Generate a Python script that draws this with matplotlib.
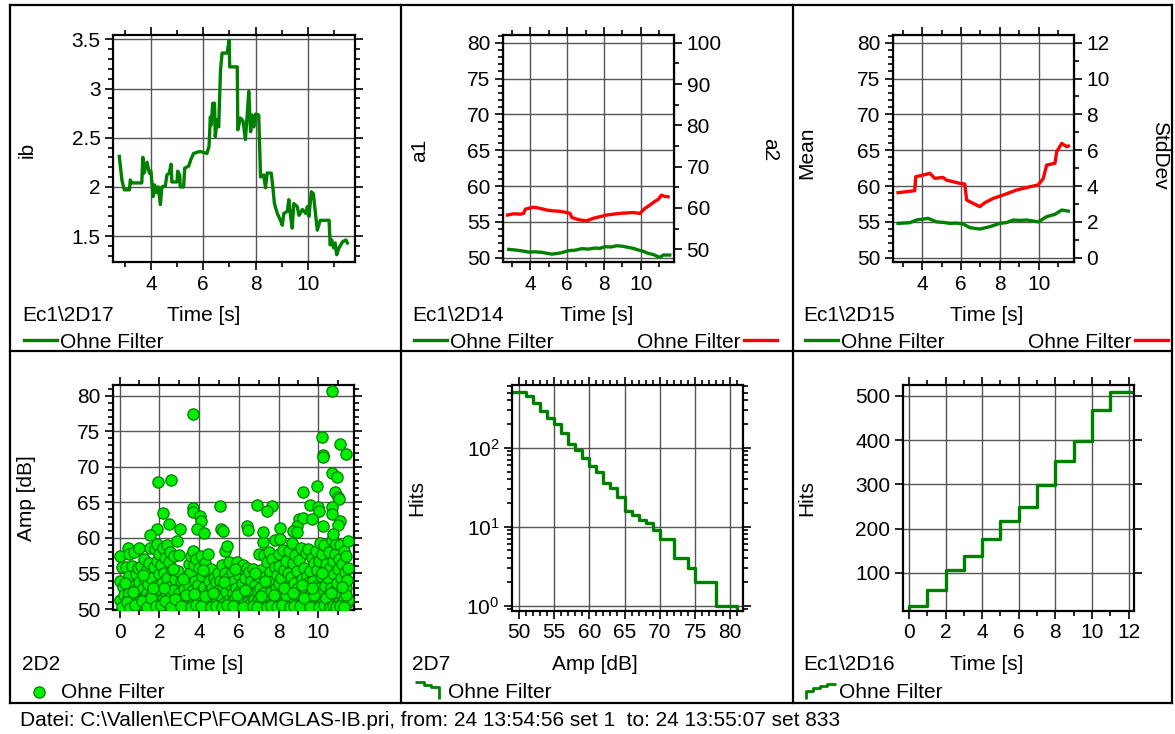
import matplotlib
matplotlib.use("Agg")
import matplotlib.pyplot as plt
import numpy as np
from matplotlib.ticker import MultipleLocator, StrMethodFormatter, LogLocator, NullFormatter
from matplotlib.lines import Line2D
from matplotlib.markers import MarkerStyle
from matplotlib.path import Path

plt.rcParams['font.family'] = ['Liberation Sans', 'DejaVu Sans']
plt.rcParams['mathtext.fontset'] = 'custom'
plt.rcParams['mathtext.rm'] = 'Liberation Sans'

# ---- data ------------------------------------------------------------------
# ib over time (Ec1\2D17)
ib_t = [2.79, 2.89, 2.98, 3.18, 3.21, 3.27, 3.65, 3.69, 3.74, 3.85, 3.94, 4.00, 4.08, 4.14,
        4.20, 4.28, 4.36, 4.42, 4.55, 4.61, 4.70, 4.77, 4.80, 5.00, 5.02, 5.10, 5.12, 5.25,
        5.29, 5.44, 5.53, 5.63, 5.87, 6.14, 6.22, 6.27, 6.31, 6.36, 6.43, 6.46, 6.53, 6.59,
        6.66, 6.72, 6.91, 6.99, 7.01, 7.30, 7.32, 7.42, 7.52, 7.61, 7.68, 7.74, 7.81, 7.87,
        7.93, 8.00, 8.12, 8.19, 8.31, 8.38, 8.44, 8.60, 8.67, 8.72, 8.83, 8.95, 9.02, 9.08,
        9.21, 9.27, 9.34, 9.40, 9.46, 9.59, 9.66, 9.79, 9.92, 9.98, 10.04, 10.13, 10.21,
        10.30, 10.36, 10.47, 10.81, 10.85, 10.91, 10.98, 11.04, 11.10, 11.19, 11.32, 11.45, 11.51]
ib_val = [2.31, 2.07, 1.97, 1.97, 2.07, 2.04, 2.04, 2.30, 2.14, 2.25, 2.14, 2.16, 1.90, 2.02,
          1.94, 2.00, 1.82, 2.00, 2.01, 2.12, 2.14, 2.23, 2.05, 2.05, 2.16, 2.12, 2.00, 2.00,
          2.19, 2.21, 2.28, 2.34, 2.36, 2.34, 2.41, 2.71, 2.63, 2.85, 2.85, 2.51, 2.68, 2.61,
          3.19, 3.36, 3.36, 3.49, 3.22, 3.22, 2.58, 2.70, 2.67, 2.48, 2.73, 2.97, 2.56, 2.73,
          2.61, 2.74, 2.73, 2.10, 2.12, 1.99, 2.14, 2.14, 1.97, 1.83, 1.73, 1.66, 1.61, 1.73,
          1.75, 1.87, 1.70, 1.58, 1.83, 1.80, 1.71, 1.77, 1.73, 1.80, 1.70, 1.95, 1.93,
          1.70, 1.56, 1.66, 1.66, 1.41, 1.46, 1.38, 1.43, 1.31, 1.38, 1.44, 1.46, 1.43]

# a1 / a2 (Ec1\2D14)
a1_t = [2.83, 3.19, 3.55, 3.91, 4.27, 4.63, 4.90, 5.17, 5.44, 5.71, 6.07, 6.43, 6.79, 7.15,
        7.51, 7.78, 8.05, 8.40, 8.68, 9.00, 9.32, 9.60, 9.86, 10.13, 10.40, 10.67, 10.94,
        11.05, 11.21, 11.57]
a1_val = [51.16, 51.07, 50.95, 50.79, 50.82, 50.74, 50.62, 50.50, 50.58, 50.70, 50.98,
          51.05, 51.26, 51.20, 51.35, 51.30, 51.53, 51.50, 51.67, 51.60, 51.44, 51.30,
          51.07, 50.90, 50.60, 50.45, 50.14, 50.05, 50.37, 50.37]
a2_t = [2.77, 3.10, 3.46, 3.64, 3.73, 4.18, 4.54, 4.90, 5.26, 5.60, 5.98, 6.16, 6.25, 6.45,
        6.70, 7.06, 7.42, 7.78, 8.15, 8.50, 8.86, 9.20, 9.58, 9.95, 10.22, 10.49, 10.76,
        10.95, 11.12, 11.30, 11.48]
a2_val = [58.3, 58.6, 58.5, 58.7, 59.7, 60.2, 59.9, 59.5, 59.3, 59.2, 58.9, 58.7, 57.7, 57.4,
          57.1, 56.9, 57.5, 57.9, 58.3, 58.5, 58.7, 58.8, 58.9, 58.7, 59.9, 60.7, 61.6,
          62.1, 63.1, 62.8, 62.7]

# Mean / StdDev (Ec1\2D15)
mean_t = [2.76, 3.36, 3.71, 4.31, 4.74, 5.10, 5.43, 5.80, 6.11, 6.46, 6.97, 7.49, 8.00,
          8.35, 8.69, 9.05, 9.38, 9.98, 10.41, 10.84, 11.19, 11.53]
mean_val = [54.79, 54.88, 55.26, 55.49, 55.00, 54.92, 54.79, 54.82, 54.70, 54.19, 54.00,
            54.33, 54.79, 54.90, 55.26, 55.20, 55.26, 55.00, 55.72, 56.05, 56.65, 56.50]
std_t = [2.76, 3.62, 3.67, 4.05, 4.40, 4.65, 5.08, 5.25, 5.94, 6.20, 6.29, 6.63, 6.97,
         7.23, 7.66, 8.18, 8.87, 9.55, 9.98, 10.24, 10.41, 10.84, 10.93, 11.19, 11.44, 11.53]
std_val = [3.63, 3.74, 4.52, 4.61, 4.71, 4.43, 4.48, 4.33, 4.15, 4.11, 3.22, 3.03, 2.85,
           3.07, 3.31, 3.50, 3.78, 3.96, 4.06, 4.43, 5.17, 5.27, 5.92, 6.38, 6.20, 6.23]

# Amp over time (2D2)
hit_t = [
    0.0, 0.0, 0.02, 0.1, 0.15, 0.2, 0.25, 0.3, 0.35, 0.4, 0.45, 0.5, 0.5, 0.5,
    0.6, 0.65, 0.7, 0.75, 0.8, 0.85, 0.9, 0.95, 1.0, 1.0, 1.05, 1.0,
    1.1, 1.2, 1.25, 1.3, 1.3, 1.35, 1.4, 1.45, 1.5, 1.5, 1.55,
    1.6, 1.65, 1.7, 1.75, 1.8, 1.85, 1.9, 1.95, 1.9, 2.0, 2.0, 2.0, 2.05,
    2.1, 2.15, 2.2, 2.2, 2.25, 2.3, 2.35, 2.4, 2.4, 2.45, 2.5, 2.5,
    2.55, 2.6, 2.65, 2.7, 2.75, 2.8, 2.85, 2.9, 2.95, 3.0, 3.0, 3.05,
    3.1, 3.2, 3.25, 3.3, 3.35, 3.4, 3.45, 3.5, 3.5,
    3.55, 3.6, 3.65, 3.7, 3.7, 3.75, 3.8, 3.85, 3.9, 3.95, 4.0, 4.0,
    4.05, 4.1, 4.15, 4.2, 4.25, 4.3, 4.35, 4.4, 4.45, 4.5, 4.5,
    4.55, 4.6, 4.65, 4.7, 4.75, 4.8, 4.85, 4.9, 4.95, 5.0, 5.0,
    5.05, 5.1, 5.15, 5.2, 5.25, 5.3, 5.3, 5.35, 5.4, 5.45, 5.5, 5.5,
    5.55, 5.6, 5.65, 5.7, 5.75, 5.8, 5.85, 5.9, 5.95, 6.0, 6.0,
    6.05, 6.1, 6.15, 6.2, 6.25, 6.3, 6.35, 6.4, 6.45, 6.5, 6.5,
    6.55, 6.6, 6.65, 6.7, 6.75, 6.8, 6.85, 6.9, 6.95, 7.0, 7.0,
    7.05, 7.1, 7.15, 7.2, 7.2, 7.25, 7.3, 7.35, 7.4, 7.45, 7.5, 7.5,
    7.55, 7.6, 7.65, 7.7, 7.75, 7.8, 7.8, 7.85, 7.9, 7.95, 8.0, 8.0,
    8.05, 8.1, 8.1, 8.15, 8.2, 8.25, 8.3, 8.35, 8.4, 8.45, 8.5, 8.5,
    8.55, 8.6, 8.65, 8.7, 8.7, 8.75, 8.8, 8.85, 8.9, 8.95, 9.0, 9.0,
    9.05, 9.1, 9.15, 9.2, 9.25, 9.3, 9.35, 9.4, 9.4, 9.45, 9.5, 9.5,
    9.55, 9.6, 9.65, 9.7, 9.7, 9.75, 9.8, 9.85, 9.9, 9.9, 9.95, 10.0, 10.0,
    10.05, 10.1, 10.1, 10.15, 10.2, 10.2, 10.25, 10.3, 10.3, 10.35, 10.4, 10.45, 10.5, 10.5,
    10.55, 10.6, 10.6, 10.65, 10.7, 10.7, 10.75, 10.8, 10.8, 10.85, 10.9, 10.9, 10.95, 11.0, 11.0,
    11.05, 11.1, 11.1, 11.15, 11.2, 11.2, 11.25, 11.3, 11.3, 11.35, 11.4, 11.4, 11.45, 11.45,
    11.5, 11.5, 11.5,
    0.1, 0.35, 0.55, 0.8, 1.15, 1.4, 1.6, 1.85, 2.1, 2.3, 2.6, 2.8, 3.1, 3.35, 3.6, 3.85,
    4.1, 4.3, 4.6, 4.85, 5.15, 5.4, 5.7, 5.9, 6.2, 6.4, 6.7, 6.9, 7.1, 7.4, 7.6, 7.9,
    8.2, 8.4, 8.6, 8.8, 9.1, 9.3, 9.6, 9.8, 10.05, 10.3, 10.4, 10.6, 10.75, 10.9, 11.1,
    11.3, 11.4,
    0.25, 0.7, 1.2, 1.7, 2.25, 2.7, 3.2, 3.75, 4.2, 4.7, 5.25, 5.8, 6.3, 6.8, 7.3, 7.75,
    8.3, 8.75, 9.2, 9.7, 10.2, 10.65, 11.2,
    3.69, 10.70, 10.17, 10.22, 10.25, 11.09, 11.42, 1.96, 2.58, 10.67, 10.92, 9.92, 9.21,
    10.84, 11.00, 11.06, 5.06, 6.93, 7.66, 7.41, 9.61, 9.99, 10.04, 10.67, 10.67, 3.69,
    3.72, 4.05, 4.10, 3.89, 4.25, 2.21, 2.51, 3.02, 1.88, 1.51, 5.11, 5.19, 6.40, 6.48,
    7.23, 9.04, 8.91, 8.74, 8.91, 9.24, 8.07, 10.25, 11.09, 11.00, 9.68, 10.75]
hit_amp = [
    57.4, 54.0, 51.2, 55.9, 53.1, 52.0, 50.6, 55.9, 53.6, 51.5, 58.6, 57.8, 54.6, 52.3,
    50.8, 56.0, 53.2, 58.0, 51.9, 54.9, 52.8, 55.8, 58.6, 53.8, 51.2, 50.7,
    56.0, 52.9, 57.1, 54.1, 50.9, 55.4, 52.2, 53.5, 56.5, 51.5, 58.6,
    54.4, 52.3, 50.8, 55.9, 58.4, 53.3, 56.7, 51.7, 59.1, 54.9, 52.8, 57.7, 50.6,
    56.2, 53.6, 58.6, 51.4, 55.1, 57.2, 52.3, 54.4, 59.0, 50.9, 56.6, 53.1,
    58.0, 51.8, 55.5, 52.7, 57.5, 54.2, 50.7, 59.5, 55.3, 52.3, 57.6, 51.0,
    53.9, 51.6, 52.8, 50.6, 54.5, 52.0, 51.1, 53.3, 56.3,
    55.0, 57.4, 52.5, 58.1, 50.8, 56.2, 54.0, 57.0, 51.6, 53.4, 55.8, 50.6,
    52.4, 57.4, 54.6, 51.3, 53.1, 56.4, 50.9, 55.2, 57.7, 52.6, 54.0,
    51.2, 55.6, 53.0, 50.7, 54.4, 52.0, 53.8, 51.4, 55.0, 52.7, 50.6,
    54.0, 51.8, 56.2, 53.2, 50.8, 55.0, 58.2, 52.4, 58.8, 54.4, 51.3, 56.6,
    53.4, 50.9, 55.2, 52.2, 54.0, 51.5, 53.0, 56.6, 50.7, 54.8, 52.4,
    55.8, 51.2, 53.6, 56.2, 50.8, 54.4, 52.3, 55.7, 51.0, 53.1, 55.2,
    50.7, 54.0, 52.0, 55.6, 51.3, 53.4, 50.9, 52.6, 54.7, 51.6, 57.7,
    53.0, 55.5, 50.8, 59.4, 52.2, 57.6, 54.5, 51.4, 56.6, 53.6, 58.0, 50.6,
    55.2, 52.4, 57.0, 54.0, 50.9, 59.7, 55.9, 52.9, 54.8, 51.7, 57.8, 53.6,
    56.0, 50.7, 59.8, 54.4, 52.3, 58.3, 55.5, 51.4, 56.8, 53.3, 50.8, 55.0,
    58.2, 52.6, 54.5, 51.0, 59.3, 56.5, 53.6, 57.6, 51.9, 55.3, 50.7, 53.0,
    56.9, 52.0, 58.6, 54.2, 50.9, 55.8, 52.8, 57.9, 51.3, 54.6, 53.6, 58.5,
    50.8, 55.3, 52.2, 57.2, 51.3, 54.0, 56.4, 50.6, 53.2, 58.2, 55.5, 51.8, 53.0,
    56.8, 50.7, 59.3, 54.6, 52.2, 57.8, 51.0, 55.4, 59.0, 53.2, 56.3, 50.8, 54.4, 52.0,
    58.0, 51.4, 55.7, 53.0, 59.7, 50.6, 56.7, 52.6, 54.9, 57.7, 51.2, 59.1, 53.7, 55.6, 50.9,
    57.0, 52.2, 59.0, 54.3, 50.8, 56.3, 53.0, 58.2, 51.6, 55.2, 52.9, 57.4, 50.9, 54.1,
    59.5, 55.8, 51.3,
    50.3, 51.0, 50.2, 50.5, 51.1, 50.3, 51.6, 50.4, 50.5, 51.1, 50.3, 51.4, 50.4, 51.9, 50.3, 50.5,
    50.4, 51.8, 50.3, 50.4, 50.3, 50.5, 50.4, 51.9, 50.3, 52.6, 50.4, 50.3, 51.8, 50.3, 50.4, 50.3,
    50.5, 52.0, 50.3, 50.4, 50.4, 51.6, 50.3, 51.9, 50.3, 50.5, 51.6, 50.3, 50.4, 50.3, 50.4,
    50.3, 51.9,
    53.7, 52.4, 54.8, 53.0, 52.9, 55.6, 54.2, 52.1, 55.5, 52.3, 53.8, 55.6, 52.7, 55.0,
    53.9, 52.0, 53.0, 52.2, 53.4, 53.0, 55.0, 52.2, 53.1,
    77.4, 80.6, 74.2, 71.7, 71.4, 73.2, 71.8, 67.8, 68.1, 69.1, 68.6, 67.3, 66.4,
    66.4, 65.8, 65.5, 64.5, 64.6, 64.5, 63.8, 64.6, 64.4, 63.8, 64.4, 63.4, 64.2,
    63.6, 63.1, 62.4, 61.3, 60.7, 63.5, 61.9, 61.3, 61.3, 60.4, 61.3, 61.0, 61.7, 61.1,
    60.8, 62.6, 61.7, 61.0, 60.8, 62.8, 61.4, 61.7, 62.4, 61.8, 62.6, 60.5]

# cumulative amplitude distribution (2D7)
amp_lo = [49, 51, 52, 53, 54, 55, 56, 57, 58, 59, 60, 61, 62, 63, 64, 65, 66, 67, 68, 69,
          70, 72, 74, 75, 78, 81]
amp_hits = [510, 450, 365, 295, 240, 200, 152, 113, 93, 75, 59, 50, 36, 31, 24, 16, 14, 12,
            11, 9, 7, 4, 3, 2, 1, 0]

# cumulative hits over time (Ec1\2D16)
cum_t = [0, 0, 1, 2, 3, 4, 5, 6, 7, 8, 9, 10, 11, 12.3]
cum_hits = [0, 25, 61, 107, 138, 177, 216, 248, 298, 352, 399, 468, 509, 509]

footer = r"Datei: C:\Vallen\ECP\FOAMGLAS-IB.pri, from: 24 13:54:56 set 1  to: 24 13:55:07 set 833"

# ---- layout helpers ---------------------------------------------------------
W, H = 1175, 734
FS = 15
GREEN = '#008000'
RED = '#ff0000'


def box(l, t, r, b):
    return [l / W, 1 - b / H, (r - l) / W, (b - t) / H]


def fx(x):
    return x / W


def fy(y):
    return 1 - y / H


def style(ax, right=True):
    ax.tick_params(which='both', direction='out', top=True, right=right,
                   width=1.2, labelsize=FS, pad=3)
    ax.tick_params(which='major', length=6)
    ax.tick_params(which='minor', length=3.6)
    for s in ax.spines.values():
        s.set_linewidth(1.6)
    ax.grid(True, which='major', color='#555555', lw=1.0)


def twin_style(tw):
    tw.tick_params(which='both', direction='out', width=1.2, labelsize=FS, pad=3)
    tw.tick_params(which='major', length=6)
    tw.tick_params(which='minor', length=3.6)


def ylab(x, y, s, rot=90):
    fig.text(fx(x), fy(y), s, rotation=rot, ha='center', va='center', fontsize=FS)


def leg(handle, x, y, right=False, **kw):
    fig.legend(handles=[handle], labels=['Ohne Filter'],
               loc='center right' if right else 'center left',
               bbox_to_anchor=(fx(x), fy(y)), frameon=False, borderpad=0,
               borderaxespad=0, fontsize=FS, markerfirst=not right, **kw)


fig = plt.figure(figsize=(W / 100, H / 100), dpi=100)

# panel frames
frame_kw = dict(transform=fig.transFigure, color='black', lw=1.6)
for (x0, y0, x1, y1) in [(10, 5, 1172, 5), (10, 703, 1172, 703), (10, 351, 1172, 351),
                         (10, 5, 10, 703), (1172, 5, 1172, 703),
                         (401, 5, 401, 703), (793, 5, 793, 703)]:
    fig.add_artist(Line2D([fx(x0), fx(x1)], [fy(y0), fy(y1)], **frame_kw))

# ---- panel 1: ib ------------------------------------------------------------
ax1 = fig.add_axes(box(113, 35, 355, 262))
ln1, = ax1.plot(ib_t, ib_val, color=GREEN, lw=2.4)
ax1.set_xlim(2.55, 11.8)
ax1.set_ylim(1.236, 3.544)
ax1.xaxis.set_major_locator(MultipleLocator(2))
ax1.xaxis.set_minor_locator(MultipleLocator(1))
ax1.yaxis.set_major_locator(MultipleLocator(0.5))
ax1.yaxis.set_minor_locator(MultipleLocator(0.1))
ax1.yaxis.set_major_formatter(StrMethodFormatter('{x:g}'))
style(ax1)
ylab(27, 150, 'ib')
fig.text(fx(22), fy(315), 'Ec1\\2D17', va='center', fontsize=FS)
fig.text(fx(204), fy(315), 'Time [s]', ha='center', va='center', fontsize=FS)
leg(ln1, 24, 342, handlelength=1.6, handletextpad=0.15)

# ---- panel 2: a1 / a2 -------------------------------------------------------
ax2 = fig.add_axes(box(503, 35, 674, 262))
ln2a, = ax2.plot(a1_t, a1_val, color=GREEN, lw=2.4)
ax2.set_xlim(2.52, 11.8)
ax2.set_ylim(49.4, 81.07)
ax2.xaxis.set_major_locator(MultipleLocator(2))
ax2.xaxis.set_minor_locator(MultipleLocator(1))
ax2.yaxis.set_major_locator(MultipleLocator(5))
ax2.yaxis.set_minor_locator(MultipleLocator(1))
style(ax2, right=False)
tw2 = ax2.twinx()
ln2b, = tw2.plot(a2_t, a2_val, color=RED, lw=2.4)
tw2.set_ylim(46.93, 101.86)
tw2.yaxis.set_major_locator(MultipleLocator(10))
tw2.yaxis.set_minor_locator(MultipleLocator(5))
twin_style(tw2)
ylab(420, 150, 'a1')
ylab(770, 150, 'a2', rot=270)
fig.text(fx(412), fy(315), 'Ec1\\2D14', va='center', fontsize=FS)
fig.text(fx(597), fy(315), 'Time [s]', ha='center', va='center', fontsize=FS)
leg(ln2a, 414, 342, handlelength=1.6, handletextpad=0.15)
leg(ln2b, 777, 342, right=True, handlelength=1.6, handletextpad=0.15)

# ---- panel 3: Mean / StdDev -------------------------------------------------
ax3 = fig.add_axes(box(893, 35, 1074, 262))
ln3a, = ax3.plot(mean_t, mean_val, color=GREEN, lw=2.4)
ax3.set_xlim(2.5, 11.82)
ax3.set_ylim(49.4, 81.07)
ax3.xaxis.set_major_locator(MultipleLocator(2))
ax3.xaxis.set_minor_locator(MultipleLocator(1))
ax3.yaxis.set_major_locator(MultipleLocator(5))
ax3.yaxis.set_minor_locator(MultipleLocator(1))
style(ax3, right=False)
tw3 = ax3.twinx()
ln3b, = tw3.plot(std_t, std_val, color=RED, lw=2.4)
tw3.set_ylim(-0.24, 12.43)
tw3.yaxis.set_major_locator(MultipleLocator(2))
tw3.yaxis.set_minor_locator(MultipleLocator(1))
twin_style(tw3)
ylab(807, 153, 'Mean')
ylab(1160, 155, 'StdDev', rot=270)
fig.text(fx(803), fy(315), 'Ec1\\2D15', va='center', fontsize=FS)
fig.text(fx(987), fy(315), 'Time [s]', ha='center', va='center', fontsize=FS)
leg(ln3a, 805, 342, handlelength=1.6, handletextpad=0.15)
leg(ln3b, 1168, 342, right=True, handlelength=1.6, handletextpad=0.15)

# ---- panel 4: Amp vs time ---------------------------------------------------
ax4 = fig.add_axes(box(113, 385, 354, 610))
sc = ax4.scatter(hit_t, hit_amp, s=66, c='#00ee00', edgecolors=GREEN, linewidths=0.9,
                 zorder=3)
ax4.set_xlim(-0.33, 11.8)
ax4.set_ylim(49.86, 81.5)
ax4.xaxis.set_major_locator(MultipleLocator(2))
ax4.xaxis.set_minor_locator(MultipleLocator(1))
ax4.yaxis.set_major_locator(MultipleLocator(5))
ax4.yaxis.set_minor_locator(MultipleLocator(1))
style(ax4)
ylab(27, 498, 'Amp [dB]')
fig.text(fx(22), fy(665), '2D2', va='center', fontsize=FS)
fig.text(fx(207), fy(665), 'Time [s]', ha='center', va='center', fontsize=FS)
leg(sc, 26, 692, scatterpoints=1, handlelength=1.2, handletextpad=0.5)

# ---- panel 5: cumulative amplitude distribution ----------------------------
ax5 = fig.add_axes(box(512, 385, 743, 611))
ax5.set_yscale('log', nonpositive='clip')
ax5.step(amp_lo, amp_hits, where='post', color=GREEN, lw=2.4)
ax5.set_xlim(49.05, 81.8)
ax5.set_ylim(10 ** -0.067, 10 ** 2.794)
ax5.xaxis.set_major_locator(MultipleLocator(5))
ax5.xaxis.set_minor_locator(MultipleLocator(1))
ax5.yaxis.set_major_locator(LogLocator(base=10))
ax5.yaxis.set_minor_locator(LogLocator(base=10, subs=np.arange(2, 10)))
ax5.yaxis.set_minor_formatter(NullFormatter())
style(ax5)
ylab(417, 498, 'Hits')
fig.text(fx(412), fy(665), '2D7', va='center', fontsize=FS)
fig.text(fx(595), fy(665), 'Amp [dB]', ha='center', va='center', fontsize=FS)
down_icon = Path([(-1.5, 0.75), (-0.6, 0.75), (-0.6, 0.5), (0.1, 0.5), (0.1, 0.25),
                  (0.9, 0.25), (0.9, -0.9)])
h5 = Line2D([], [], ls='none', marker=MarkerStyle(down_icon), markersize=22,
            markerfacecolor='none', markeredgecolor=GREEN, markeredgewidth=2)
leg(h5, 413, 692, handlelength=1.6, handletextpad=0.1)

# ---- panel 6: cumulative hits over time ------------------------------------
ax6 = fig.add_axes(box(903, 385, 1134, 611))
ax6.step(cum_t, cum_hits, where='post', color=GREEN, lw=2.4)
ax6.set_xlim(-0.33, 12.3)
ax6.set_ylim(13.3, 524.9)
ax6.xaxis.set_major_locator(MultipleLocator(2))
ax6.xaxis.set_minor_locator(MultipleLocator(1))
ax6.yaxis.set_major_locator(MultipleLocator(100))
style(ax6)
ylab(807, 498, 'Hits')
fig.text(fx(803), fy(665), 'Ec1\\2D16', va='center', fontsize=FS)
fig.text(fx(987), fy(665), 'Time [s]', ha='center', va='center', fontsize=FS)
up_icon = Path([(-1.5, -0.9), (-1.5, -0.1), (-0.8, -0.1), (-0.8, 0.15), (-0.1, 0.15),
                (-0.1, 0.4), (0.6, 0.4), (0.6, 0.55), (1.5, 0.55)])
h6 = Line2D([], [], ls='none', marker=MarkerStyle(up_icon), markersize=22,
            markerfacecolor='none', markeredgecolor=GREEN, markeredgewidth=2)
leg(h6, 804, 692, handlelength=1.6, handletextpad=0.1)

fig.text(fx(20), fy(720), footer, va='center', fontsize=FS)

fig.savefig('out.png', dpi=100)
